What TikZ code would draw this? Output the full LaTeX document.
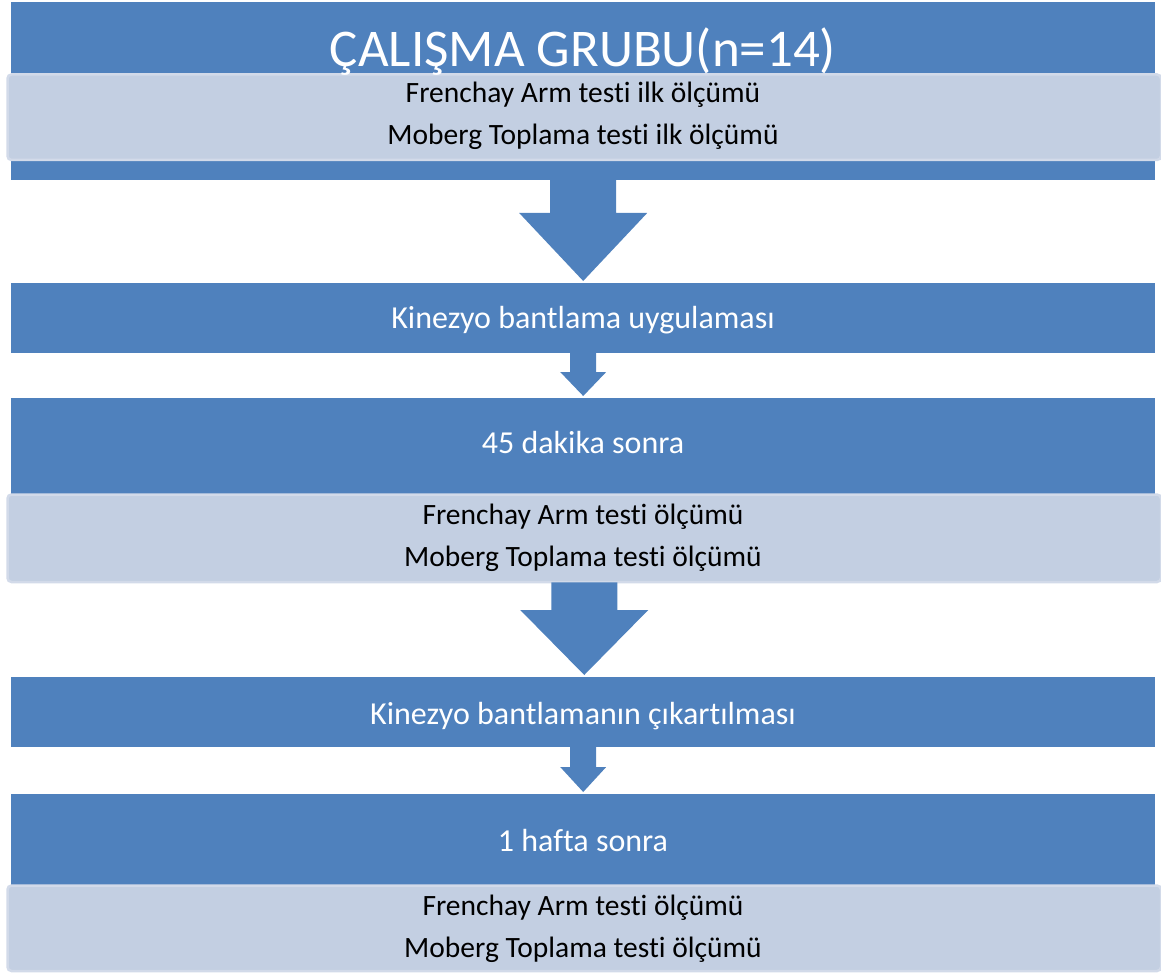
\documentclass[tikz,border=0pt]{standalone}
\usepackage{fontspec}
\setmainfont[RawFeature={-liga,-clig,-calt,-dlig}]{Carlito}
\usetikzlibrary{calc}
\definecolor{flowblue}{RGB}{79,129,189}
\definecolor{lightfill}{RGB}{195,207,226}
\definecolor{lightborder}{RGB}{210,218,233}
\tikzset{
  bluebox/.style={fill=flowblue, draw=none, anchor=north west, inner sep=0pt},
  lightbox/.style={fill=lightfill, draw=lightborder, line width=2.5pt, rounded corners=4pt, anchor=north west, inner sep=0pt},
  titletext/.style={text=white, font=\fontsize{53}{62}\selectfont, anchor=base, inner sep=0pt},
  bluetext/.style={text=white, font=\fontsize{32}{38}\selectfont, anchor=base, inner sep=0pt},
  darktext/.style={text=black, font=\fontsize{29.5}{35}\selectfont, anchor=base, inner sep=0pt},
}
\newcommand\blockarrow[5]{%
  \fill[flowblue] let \p1=(#1.south), \p2=(#2.north) in
    (\x1-#3pt,\y1+1pt) -- (\x1-#3pt,\y2+#5pt) -- (\x1-#4pt,\y2+#5pt) --
    (\x1,\y2+2pt) -- (\x1+#4pt,\y2+#5pt) -- (\x1+#3pt,\y2+#5pt) --
    (\x1+#3pt,\y1+1pt) -- cycle;}
\begin{document}
\begin{tikzpicture}[x=1pt,y=-1pt]
\useasboundingbox (0,0) rectangle (1161,976);
% boxes
\node[bluebox, minimum width=1144pt, minimum height=178pt] (b1) at (11,2) {};
\node[lightbox, minimum width=1153.5pt, minimum height=85.5pt] (l1) at (6.25,73.25) {};
\node[bluebox, minimum width=1144pt, minimum height=70pt] (b2) at (11,283) {};
\node[bluebox, minimum width=1144pt, minimum height=140pt] (b3) at (11,398) {};
\node[lightbox, minimum width=1153.5pt, minimum height=87.5pt] (l2) at (6.25,493.25) {};
\node[bluebox, minimum width=1144pt, minimum height=70pt] (b4) at (11,677) {};
\node[bluebox, minimum width=1144pt, minimum height=130pt] (b5) at (11,794) {};
\node[lightbox, minimum width=1153.5pt, minimum height=85.5pt] (l3) at (6.25,884.25) {};
% arrows
\blockarrow{b1}{b2}{33}{64}{70}
\blockarrow{b2}{b3}{13}{23}{26}
\blockarrow{l2}{b4}{33}{64}{67}
\blockarrow{b4}{b5}{13}{23}{27}
% texts
\node[titletext] (t1) at (583,67) {ÇALIŞMA GRUBU(n=14)};
\node[darktext] (t2) at (583,103) {Frenchay Arm testi ilk ölçümü};
\node[darktext] (t3) at (583,145) {Moberg Toplama testi ilk ölçümü};
\node[bluetext] (t4) at (583,328) {Kinezyo bantlama uygulaması};
\node[bluetext] (t5) at (583,453) {45 dakika sonra};
\node[darktext] (t6) at (583,524) {Frenchay Arm testi ölçümü};
\node[darktext] (t7) at (583,566) {Moberg Toplama testi ölçümü};
\node[bluetext] (t8) at (583,724) {Kinezyo bantlamanın çıkartılması};
\node[bluetext] (t9) at (583,851) {1 hafta sonra};
\node[darktext] (t10) at (583,915) {Frenchay Arm testi ölçümü};
\node[darktext] (t11) at (583,957) {Moberg Toplama testi ölçümü};
\end{tikzpicture}
\end{document}
